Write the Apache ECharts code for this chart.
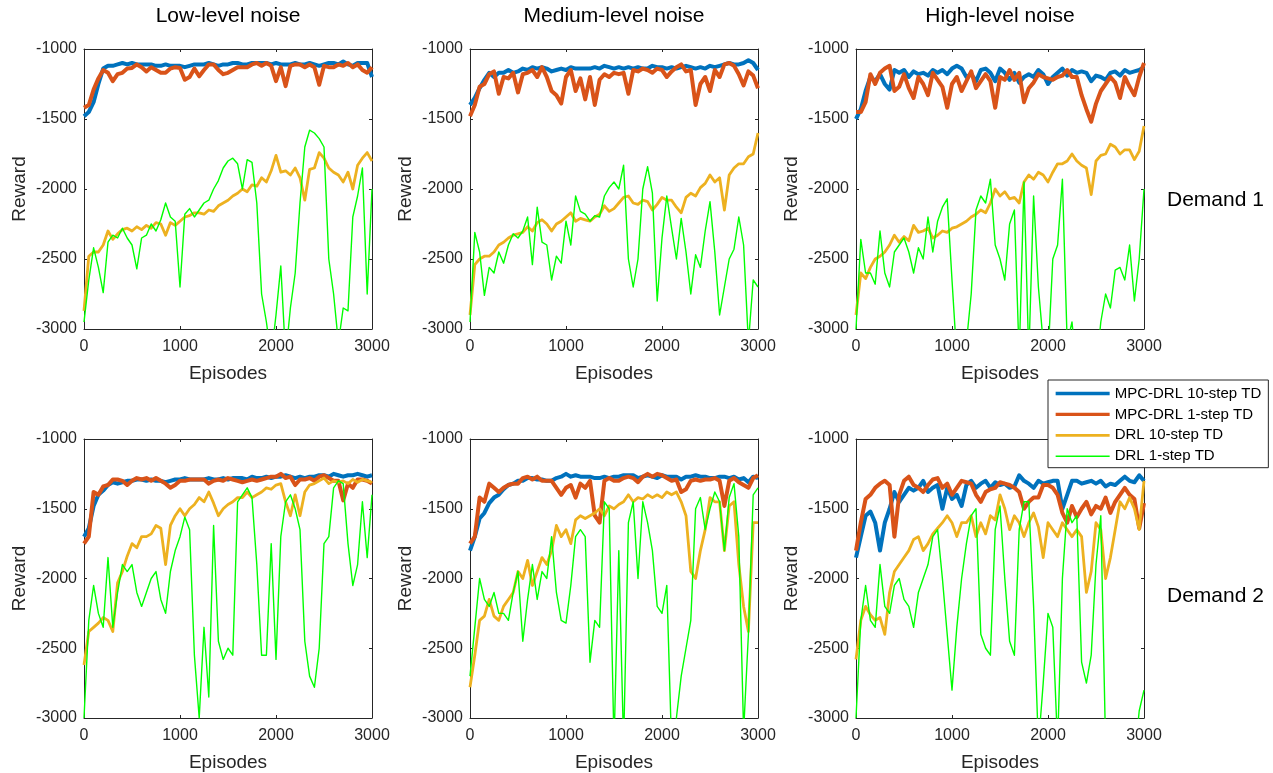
<!DOCTYPE html>
<html>
<head>
<meta charset="utf-8">
<title>Reward vs episodes</title>
<script src="https://cdn.jsdelivr.net/npm/echarts@6/dist/echarts.min.js"></script>
<style>
  html, body { margin: 0; padding: 0; background: #fff; }
  #main { width: 1273px; height: 773px; }
</style>
</head>
<body>
<div id="main"></div>
<script>
// x grid shared by every curve (every 50 episodes)
const episodes = [
  0, 50, 100, 150, 200, 250, 300, 350, 400, 450,
  500, 550, 600, 650, 700, 750, 800, 850, 900, 950,
  1000, 1050, 1100, 1150, 1200, 1250, 1300, 1350, 1400, 1450,
  1500, 1550, 1600, 1650, 1700, 1750, 1800, 1850, 1900, 1950,
  2000, 2050, 2100, 2150, 2200, 2250, 2300, 2350, 2400, 2450,
  2500, 2550, 2600, 2650, 2700, 2750, 2800, 2850, 2900, 2950,
  3000
];

const noiseLevels = ['Low-level noise', 'Medium-level noise', 'High-level noise'];
const demandLabels = ['Demand 1', 'Demand 2'];
const seriesNames = ['MPC-DRL 10-step TD', 'MPC-DRL 1-step TD', 'DRL 10-step TD', 'DRL 1-step TD'];

// ---- Demand 1, low-level noise
const lowD1Mpc10 = [
  -1480, -1450, -1380, -1250, -1140, -1120, -1120, -1110, -1100, -1110,
  -1100, -1110, -1110, -1110, -1110, -1120, -1120, -1110, -1120, -1120,
  -1120, -1130, -1120, -1110, -1110, -1110, -1100, -1110, -1120, -1110,
  -1110, -1100, -1100, -1110, -1110, -1100, -1100, -1100, -1100, -1110,
  -1100, -1110, -1110, -1110, -1100, -1110, -1110, -1100, -1110, -1120,
  -1110, -1100, -1100, -1110, -1090, -1110, -1120, -1100, -1100, -1100,
  -1200
];
const lowD1Mpc1 = [
  -1420, -1400, -1290, -1210, -1150, -1170, -1230, -1180, -1170, -1140,
  -1135, -1110, -1130, -1160, -1130, -1150, -1170, -1170, -1140, -1130,
  -1135, -1220, -1200, -1140, -1195, -1150, -1110, -1110, -1150, -1180,
  -1170, -1150, -1130, -1130, -1130, -1110, -1100, -1120, -1100, -1120,
  -1230, -1130, -1265, -1120, -1110, -1110, -1130, -1110, -1130, -1255,
  -1120, -1130, -1130, -1110, -1120, -1100, -1130, -1110, -1150, -1170,
  -1130
];
const lowD1Drl10 = [
  -2870, -2480, -2450, -2450, -2400, -2300, -2360, -2320, -2290, -2280,
  -2300, -2270, -2290, -2260, -2280, -2240, -2250, -2330, -2240, -2260,
  -2230, -2200, -2190, -2170, -2170, -2180, -2150, -2160, -2120, -2100,
  -2080, -2050, -2030, -2000, -2020, -1970, -1980, -1920, -1950, -1870,
  -1760, -1880, -1870, -1900, -1850, -1920, -2080, -1860, -1850, -1740,
  -1780, -1850, -1880, -1900, -1950, -1880, -2000, -1830, -1780, -1740,
  -1800
];
const lowD1Drl1 = [
  -2950, -2650, -2420, -2560, -2740, -2380, -2330, -2350, -2280, -2350,
  -2400, -2570, -2350, -2330, -2250, -2300, -2220, -2100, -2200, -2230,
  -2700, -2180, -2140, -2200, -2150, -2100, -2080, -2000, -1940, -1850,
  -1800, -1780, -1820, -2000, -1790, -1810, -2100, -2750, -2950, -3200,
  -2900, -2550, -3200, -2850, -2600, -2100, -1700, -1580, -1600, -1640,
  -1700, -2500, -2750, -3100, -2850, -2870, -2200, -2050, -1850, -2750,
  -2000
];

// ---- Demand 1, medium-level noise
const medD1Mpc10 = [
  -1400, -1350, -1280, -1220, -1170, -1200, -1170, -1170, -1150, -1170,
  -1160, -1140, -1150, -1130, -1140, -1130, -1140, -1160, -1150, -1140,
  -1150, -1130, -1140, -1140, -1140, -1140, -1130, -1140, -1120, -1130,
  -1140, -1130, -1140, -1130, -1140, -1130, -1140, -1140, -1120, -1130,
  -1130, -1140, -1130, -1140, -1130, -1120, -1130, -1140, -1130, -1140,
  -1120, -1130, -1120, -1110, -1100, -1110, -1110, -1100, -1080, -1100,
  -1150
];
const medD1Mpc1 = [
  -1480, -1400, -1270, -1250, -1180, -1160, -1320, -1200, -1210, -1170,
  -1310, -1180, -1170, -1150, -1200, -1130, -1200, -1300, -1330, -1390,
  -1200, -1150, -1300, -1210, -1360, -1200, -1400, -1220, -1180, -1200,
  -1170, -1180, -1170, -1320, -1150, -1160, -1140, -1150, -1170, -1140,
  -1150, -1200, -1160, -1130, -1110, -1160, -1150, -1400, -1250, -1200,
  -1300, -1150, -1200, -1110, -1100, -1120, -1180, -1260, -1160, -1190,
  -1280
];
const medD1Drl10 = [
  -2900, -2540, -2500, -2480, -2480, -2450, -2400, -2380, -2350, -2330,
  -2320, -2310, -2270, -2300, -2240, -2220, -2250, -2300, -2250, -2230,
  -2200, -2170, -2230, -2210, -2220, -2230, -2200, -2180, -2120, -2160,
  -2140, -2100, -2060, -2050, -2100, -2110, -2080, -2090, -2150, -2110,
  -2060, -2080, -2080, -2130, -2170, -2060, -2030, -2050, -1990, -1960,
  -1900, -1950, -1920, -2150, -1900, -1850, -1820, -1820, -1770, -1750,
  -1600
];
const medD1Drl1 = [
  -2950, -2310, -2450, -2760, -2560, -2600, -2450, -2530, -2400, -2320,
  -2350, -2300, -2200, -2540, -2130, -2380, -2400, -2650, -2480, -2530,
  -2230, -2400, -2050, -2160, -2180, -2230, -2190, -2200, -2050, -1990,
  -1950, -2000, -1830, -2500, -2700, -2500, -2000, -1840, -2030, -2800,
  -2350, -2050, -2280, -2500, -2210, -2450, -2750, -2470, -2560, -2300,
  -2090, -2450, -2900, -2700, -2500, -2430, -2200, -2400, -3100, -2650,
  -2700
];

// ---- Demand 1, high-level noise
const highD1Mpc10 = [
  -1500, -1430, -1300, -1200, -1230, -1180, -1250, -1290, -1150, -1170,
  -1150, -1200, -1160, -1180, -1170, -1190, -1150, -1170, -1150, -1180,
  -1140, -1120, -1140, -1200, -1180, -1230, -1150, -1140, -1170, -1230,
  -1140, -1170, -1220, -1170, -1240, -1200, -1180, -1200, -1150, -1180,
  -1250, -1200, -1170, -1140, -1190, -1150, -1170, -1160, -1170, -1230,
  -1190, -1200, -1220, -1170, -1160, -1190, -1150, -1170, -1160, -1150,
  -1130
];
const highD1Mpc1 = [
  -1450, -1450, -1380, -1180, -1250, -1170, -1140, -1120, -1300, -1270,
  -1180, -1280, -1350, -1200, -1250, -1330, -1170, -1220, -1270, -1420,
  -1250, -1200, -1300, -1230, -1160, -1280, -1230, -1180, -1230, -1420,
  -1200, -1220, -1150, -1220, -1170, -1380, -1280, -1240, -1180, -1200,
  -1210, -1220, -1200, -1190, -1150, -1200, -1200, -1330, -1430, -1520,
  -1390, -1300, -1250, -1200, -1240, -1350, -1200, -1270, -1330, -1200,
  -1100
];
const highD1Drl10 = [
  -2900, -2600, -2640, -2560, -2500, -2480, -2450, -2400, -2330, -2380,
  -2340, -2370, -2260, -2310, -2300, -2280, -2350, -2330, -2300, -2310,
  -2280, -2270, -2250, -2230, -2200, -2180, -2150, -2170, -2100, -2000,
  -2050, -2020, -2070, -2060, -2100, -1950, -1900, -1930, -1880, -1900,
  -1950, -1880, -1820, -1820, -1800, -1750, -1800, -1830, -1850, -2040,
  -1800, -1760, -1750, -1680, -1700, -1750, -1720, -1720, -1790, -1730,
  -1550
];
const highD1Drl1 = [
  -3000, -2360, -2600, -2600, -2680, -2300, -2600, -2700, -2450, -2400,
  -2350, -2450, -2600, -2420, -2500, -2200, -2450, -2230, -2130, -2070,
  -2650, -3200, -3300, -3100, -2750, -2150, -2050, -2100, -1930, -2400,
  -2500, -2650, -2250, -2150, -3200, -1950, -3200, -2050, -2700, -3100,
  -3200, -2500, -2400, -1930, -3100, -2950, -3300, -3300, -3300, -3300,
  -3300, -2950, -2750, -2850, -2580, -2560, -2650, -2400, -2800, -2500,
  -2000
];

// ---- Demand 2, low-level noise
const lowD2Mpc10 = [
  -1700, -1640, -1480, -1400, -1370, -1330, -1310, -1320, -1310, -1300,
  -1300, -1290, -1290, -1300, -1290, -1300, -1300, -1310, -1300, -1290,
  -1290, -1280, -1290, -1290, -1290, -1290, -1280, -1290, -1290, -1280,
  -1290, -1280, -1280, -1280, -1290, -1270, -1280, -1280, -1270, -1280,
  -1270, -1270, -1260, -1270, -1280, -1270, -1280, -1270, -1270, -1260,
  -1260, -1270, -1250, -1260, -1270, -1260, -1260, -1250, -1260, -1270,
  -1260
];
const lowD2Mpc1 = [
  -1750, -1700, -1380, -1400, -1340, -1330, -1290, -1290, -1300, -1330,
  -1300, -1280, -1290, -1280, -1300, -1280, -1300, -1320, -1350, -1330,
  -1300, -1300, -1290, -1290, -1290, -1290, -1320, -1300, -1290, -1300,
  -1280, -1290, -1300, -1310, -1300, -1290, -1300, -1290, -1280, -1270,
  -1270, -1250, -1280, -1270, -1330, -1290, -1290, -1280, -1300, -1270,
  -1260, -1280, -1300, -1300, -1440, -1320, -1350, -1290, -1290, -1300,
  -1320
];
const lowD2Drl10 = [
  -2620, -2380, -2350, -2320, -2280, -2300, -2380, -2030, -1950, -1840,
  -1750, -1780, -1700, -1700, -1680, -1620, -1640, -1900, -1620, -1550,
  -1500, -1550, -1500, -1470, -1420, -1450, -1380, -1460, -1550, -1500,
  -1470, -1450, -1420, -1420, -1380, -1420, -1400, -1380, -1350, -1360,
  -1330, -1320, -1450, -1550, -1400, -1550, -1380, -1330, -1320, -1300,
  -1280, -1320, -1300, -1310, -1300, -1320, -1290, -1310, -1290, -1300,
  -1310
];
const lowD2Drl1 = [
  -3000, -2300, -2050, -2250, -2350, -1850, -2350, -2100, -1900, -1950,
  -1900, -2100, -2200, -2100, -2000, -1950, -2150, -2250, -1950, -1800,
  -1700, -1560, -1650, -2550, -3000, -2350, -2850, -1620, -2450, -2580,
  -2500, -2550, -1450, -1400, -1350, -1420, -1900, -2550, -2550, -1750,
  -2580, -1700, -1450, -1400, -1500, -1650, -2450, -2700, -2780, -2500,
  -1750, -1700, -1350, -1300, -1320, -1750, -2050, -1900, -1450, -1850,
  -1400
];

// ---- Demand 2, medium-level noise
const medD2Mpc10 = [
  -1800, -1700, -1570, -1530, -1460, -1420, -1400, -1360, -1330, -1320,
  -1300, -1300, -1280, -1280, -1290, -1290, -1300, -1300, -1280, -1270,
  -1250, -1270, -1260, -1270, -1270, -1270, -1280, -1280, -1270, -1280,
  -1270, -1270, -1260, -1260, -1260, -1280, -1270, -1260, -1270, -1280,
  -1260, -1270, -1270, -1270, -1290, -1270, -1270, -1260, -1270, -1270,
  -1280, -1280, -1270, -1270, -1280, -1270, -1290, -1280, -1310, -1270,
  -1280
];
const medD2Mpc1 = [
  -1750, -1700, -1420, -1450, -1320, -1350, -1380, -1350, -1330, -1320,
  -1320, -1280, -1270, -1290, -1270, -1300, -1300, -1300, -1350, -1400,
  -1350, -1330, -1420, -1320, -1350, -1300, -1550, -1600, -1300, -1280,
  -1300, -1300, -1280, -1270, -1280, -1310, -1270, -1250, -1270, -1250,
  -1260, -1280, -1300, -1290, -1380, -1360, -1300, -1290, -1300, -1290,
  -1290, -1280, -1300, -1480, -1300, -1280, -1310, -1330, -1350, -1280,
  -1260
];
const medD2Drl10 = [
  -2780, -2550, -2300, -2270, -2150, -2270, -2300, -2200, -2150, -2100,
  -1950, -2000, -1870, -2050, -1950, -1850, -1900, -1800, -1620, -1700,
  -1650, -1750, -1580, -1550, -1570, -1550, -1530, -1500, -1550, -1480,
  -1500, -1470, -1450, -1400, -1450, -1420, -1430, -1400, -1420, -1400,
  -1420, -1380, -1400, -1380, -1450, -1550, -1950, -2000, -1800, -1650,
  -1420, -1450, -1450, -1800, -1480, -1450, -1900, -2200, -2380, -1600,
  -1600
];
const medD2Drl1 = [
  -2700, -2350, -2000, -2150, -2200, -2100, -2250, -2250, -2300, -2100,
  -1950, -2450, -2150, -1900, -2150, -1950, -2000, -1700, -2100, -2300,
  -2320, -2050, -1700, -1650, -1700, -2600, -2300, -2350, -1450, -1500,
  -3200, -1800, -3200, -1600, -1450, -2000, -1450, -1600, -1800, -2200,
  -2250, -2050, -3200, -3000, -2700, -2500, -2300, -1500, -1420, -1650,
  -1500, -1380, -1450, -1800, -1420, -1320, -1700, -3100, -2400, -1400,
  -1350
];

// ---- Demand 2, high-level noise
const highD2Mpc10 = [
  -1850, -1700, -1550, -1520, -1600, -1800, -1600, -1500, -1380, -1450,
  -1400, -1350, -1370, -1350, -1300, -1380, -1350, -1330, -1500, -1350,
  -1430, -1400, -1480, -1330, -1300, -1350, -1320, -1300, -1350, -1310,
  -1330, -1320, -1350, -1340, -1260, -1300, -1320, -1350, -1300, -1320,
  -1310, -1300, -1300, -1500, -1400, -1300, -1300, -1320, -1310, -1300,
  -1320, -1300, -1340, -1320, -1330, -1300, -1270, -1300, -1310, -1260,
  -1300
];
const highD2Mpc1 = [
  -1800, -1600, -1430, -1400, -1350, -1320, -1300, -1330, -1700, -1400,
  -1300, -1270, -1330, -1350, -1380, -1330, -1290, -1280, -1350, -1320,
  -1400, -1350, -1300, -1310, -1320, -1400, -1450, -1380, -1360, -1350,
  -1310, -1320, -1330, -1350, -1380, -1500, -1450, -1420, -1420, -1330,
  -1330, -1350, -1400, -1530, -1600, -1480, -1560, -1500, -1450, -1540,
  -1480, -1500, -1420, -1530, -1450, -1400, -1350, -1400, -1430, -1640,
  -1460
];
const highD2Drl10 = [
  -2580, -2300, -2200, -2260, -2300, -2280, -2400, -2100, -1950, -1900,
  -1850, -1800, -1720, -1700, -1800, -1750, -1680, -1640, -1600, -1550,
  -1600, -1700, -1600, -1600, -1550, -1700, -1600, -1680, -1550, -1580,
  -1400, -1500, -1650, -1550, -1600, -1700, -1600, -1530, -1630, -1850,
  -1600, -1650, -1700, -1600, -1650, -1700, -1650, -1700, -2100, -1950,
  -1600, -1650, -2000, -1850, -1650, -1450, -1500, -1420, -1500, -1650,
  -1300
];
const highD2Drl1 = [
  -3000, -2300, -2050, -2300, -2350, -1900, -2200, -2250, -2050, -2000,
  -2150, -2200, -2350, -2100, -2000, -1900, -1700, -1650, -2000, -2400,
  -2800, -2350, -2000, -1750, -1550, -1500, -2400, -2500, -2550, -1650,
  -1480, -2000, -2450, -2550, -1650, -1450, -1450, -2200, -3200, -2750,
  -2250, -2350, -3200, -2000, -1500, -1600, -1550, -2600, -2750, -2550,
  -1900, -1550, -3200, -3300, -3300, -3300, -3300, -3300, -3300, -2950,
  -2800
];

// panel order: row 1 = Demand 1, row 2 = Demand 2; columns = noise level
const panels = [
  [lowD1Mpc10, lowD1Mpc1, lowD1Drl10, lowD1Drl1],
  [medD1Mpc10, medD1Mpc1, medD1Drl10, medD1Drl1],
  [highD1Mpc10, highD1Mpc1, highD1Drl10, highD1Drl1],
  [lowD2Mpc10, lowD2Mpc1, lowD2Drl10, lowD2Drl1],
  [medD2Mpc10, medD2Mpc1, medD2Drl10, medD2Drl1],
  [highD2Mpc10, highD2Mpc1, highD2Drl10, highD2Drl1]
];

const colors = ['#0072BD', '#D95319', '#EDB120', '#00FF00'];
const lineWidths = [4, 4, 2.8, 1.4];
const legendWidths = [3.3, 3.3, 2.7, 1.4];
const font = '"Liberation Sans", Arial, Helvetica, sans-serif';
const axisColor = '#262626';
const colLeft = [84, 470, 856];
const rowTop = [49, 439];
const plotW = 288;
const plotH = 280;

const grids = [];
const xAxes = [];
const yAxes = [];
const series = [];
const graphics = [];

// plain numbers, no thousands separator
const plainLabel = v => String(v);

function boxAxis(extra) {
  return Object.assign({
    type: 'value',
    axisLine: { show: true, onZero: false, lineStyle: { color: axisColor, width: 1 } },
    axisTick: { show: true, inside: true, length: 3, lineStyle: { color: axisColor } },
    splitLine: { show: false }
  }, extra);
}

panels.forEach((lines, p) => {
  const row = Math.floor(p / 3);
  const col = p % 3;
  grids.push({ left: colLeft[col], top: rowTop[row], width: plotW, height: plotH });

  const xCommon = { gridIndex: p, min: 0, max: 3000, interval: 1000 };
  xAxes.push(boxAxis(Object.assign({}, xCommon, {
    position: 'bottom',
    name: 'Episodes',
    nameLocation: 'middle',
    nameGap: 35,
    nameTextStyle: { fontSize: 19, color: axisColor, fontFamily: font },
    axisLabel: { fontSize: 16, color: axisColor, margin: 10, fontFamily: font, formatter: plainLabel }
  })));
  xAxes.push(boxAxis(Object.assign({}, xCommon, {
    position: 'top',
    axisLabel: { show: false }
  })));

  const yCommon = { gridIndex: p, min: -3000, max: -1000, interval: 500 };
  yAxes.push(boxAxis(Object.assign({}, yCommon, {
    position: 'left',
    name: 'Reward',
    nameLocation: 'middle',
    nameGap: 55,
    nameTextStyle: { fontSize: 19, color: axisColor, fontFamily: font },
    axisLabel: { fontSize: 16, color: axisColor, margin: 7, fontFamily: font, formatter: plainLabel }
  })));
  yAxes.push(boxAxis(Object.assign({}, yCommon, {
    position: 'right',
    axisLabel: { show: false }
  })));

  lines.forEach((vals, k) => {
    series.push({
      type: 'line',
      name: seriesNames[k],
      xAxisIndex: 2 * p,
      yAxisIndex: 2 * p,
      data: episodes.map((e, i) => [e, vals[i]]),
      symbol: 'none',
      clip: true,
      z: 2 + k,
      lineStyle: { color: colors[k], width: lineWidths[k], join: 'round' },
      itemStyle: { color: colors[k] }
    });
  });
});

noiseLevels.forEach((t, c) => {
  graphics.push({
    type: 'text', x: colLeft[c] + plotW / 2, y: 16,
    style: { text: t, fill: '#000', font: '21px ' + font, align: 'center', verticalAlign: 'middle' }
  });
});
demandLabels.forEach((t, r) => {
  graphics.push({
    type: 'text', x: 1167, y: r === 0 ? 200 : 596,
    style: { text: t, fill: '#000', font: '21px ' + font, align: 'left', verticalAlign: 'middle' }
  });
});

const chart = echarts.init(document.getElementById('main'));
chart.setOption({
  animation: false,
  backgroundColor: '#fff',
  grid: grids,
  xAxis: xAxes,
  yAxis: yAxes,
  series: series,
  graphic: graphics,
  legend: {
    orient: 'vertical',
    left: 1048,
    top: 380,
    padding: [6, 7, 4, 6],
    borderColor: axisColor,
    borderWidth: 1,
    backgroundColor: '#fff',
    itemWidth: 54,
    itemHeight: 14,
    itemGap: 5.9,
    selectedMode: false,
    z: 10,
    textStyle: { fontSize: 15, color: '#000', fontFamily: font },
    data: seriesNames.map((n, k) => ({
      name: n,
      itemStyle: { opacity: 0, borderWidth: 0 },
      lineStyle: { width: legendWidths[k], color: colors[k], opacity: 1 }
    }))
  }
});
</script>
</body>
</html>
